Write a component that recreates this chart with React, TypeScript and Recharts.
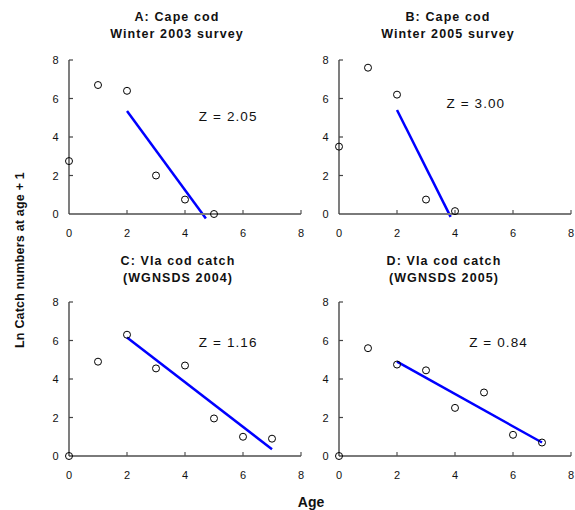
import React from 'react';
import { ScatterChart, Scatter, XAxis, YAxis, ReferenceLine, ReferenceDot } from 'recharts';

// Age classes and ln(catch numbers at age + 1) for each data set
const agesA = [0, 1, 2, 3, 4, 5];
const lnCatchA = [2.75, 6.7, 6.4, 2.0, 0.75, 0.0];
const agesB = [0, 1, 2, 3, 4];
const lnCatchB = [3.5, 7.6, 6.2, 0.75, 0.15];
const agesC = [0, 1, 2, 3, 4, 5, 6, 7];
const lnCatchC = [0, 4.9, 6.3, 4.55, 4.7, 1.95, 1.0, 0.9];
const agesD = [0, 1, 2, 3, 4, 5, 6, 7];
const lnCatchD = [0, 5.6, 4.75, 4.45, 2.5, 3.3, 1.1, 0.7];

// Fitted catch-curve segments (start and end of each regression line)
const fitA = [{ x: 2, y: 5.35 }, { x: 4.72, y: -0.23 }];
const fitB = [{ x: 2, y: 5.4 }, { x: 3.85, y: -0.15 }];
const fitC = [{ x: 2, y: 6.15 }, { x: 7, y: 0.35 }];
const fitD = [{ x: 2, y: 4.9 }, { x: 7, y: 0.7 }];

// Total mortality estimates
const zLabels = ['Z = 2.05', 'Z = 3.00', 'Z = 1.16', 'Z = 0.84'];

const titles = [
  ['A: Cape cod', 'Winter 2003 survey'],
  ['B: Cape cod', 'Winter 2005 survey'],
  ['C: VIa cod catch', '(WGNSDS 2004)'],
  ['D: VIa cod catch', '(WGNSDS 2005)'],
];

const axisTicks = [0, 2, 4, 6, 8];

const FONT = "'Liberation Sans', Arial, Helvetica, sans-serif";

const toPoints = (xs: number[], ys: number[]) => xs.map((x, i) => ({ x, y: ys[i] }));

const XTick = (props: any) => {
  const { x, y, payload } = props;
  return (
    <g>
      {payload.value !== 0 && (
        <line x1={x} x2={x} y1={y} y2={y - 4} stroke="#555" strokeWidth={1.2} />
      )}
      <text x={x} y={y + 23} textAnchor="middle" fontSize={11} fill="#111" fontFamily={FONT}>
        {payload.value}
      </text>
    </g>
  );
};

const YTick = (props: any) => {
  const { x, y, payload } = props;
  return (
    <g>
      {payload.value !== 0 && (
        <line x1={x} x2={x + 4} y1={y} y2={y} stroke="#444" strokeWidth={1.2} />
      )}
      <text x={x - 10.5} y={y + 4} textAnchor="end" fontSize={11} fill="#111" fontFamily={FONT}>
        {payload.value}
      </text>
    </g>
  );
};

const Ring = (props: any) => (
  <circle cx={props.cx} cy={props.cy} r={3.5} fill="none" stroke="#000" strokeWidth={1} />
);

interface PanelProps {
  left: number;
  top: number;
  points: { x: number; y: number }[];
  fit: { x: number; y: number }[];
  z: string;
  zAt: { x: number; y: number };
}

const Panel = ({ left, top, points, fit, z, zAt }: PanelProps) => (
  <div style={{ position: 'absolute', left, top }}>
    <ScatterChart width={305} height={250} margin={{ top: 60, right: 4, bottom: 0, left: 45 }}>
      <XAxis
        type="number"
        dataKey="x"
        domain={[0, 8]}
        ticks={axisTicks}
        interval={0}
        height={36}
        tickSize={0}
        tickMargin={0}
        tickLine={false}
        tick={<XTick />}
        axisLine={{ stroke: '#7a7a7a', strokeWidth: 2 }}
      />
      <YAxis
        type="number"
        dataKey="y"
        domain={[0, 8]}
        ticks={axisTicks}
        interval={0}
        width={24}
        tickSize={0}
        tickMargin={0}
        tickLine={false}
        tick={<YTick />}
        axisLine={{ stroke: '#3a3a3a', strokeWidth: 1.3 }}
      />
      <ReferenceLine
        segment={fit}
        ifOverflow="visible"
        stroke="#0000ff"
        strokeWidth={2.5}
      />
      <Scatter data={points} shape={<Ring />} isAnimationActive={false} />
      <ReferenceDot
        x={zAt.x}
        y={zAt.y}
        r={0}
        fill="none"
        stroke="none"
        label={{
          value: z,
          position: 'center',
          fontSize: 13.5,
          fill: '#111',
          fontFamily: FONT,
          letterSpacing: 1.1,
        }}
      />
    </ScatterChart>
  </div>
);

const titleCenters = [
  { x: 177, y: 20.7 },
  { x: 448, y: 20.7 },
  { x: 178, y: 264.5 },
  { x: 444, y: 264.5 },
];

export default function App() {
  return (
    <div
      style={{
        position: 'absolute',
        left: 0,
        top: 0,
        width: 575,
        height: 510,
        background: '#fff',
        fontFamily: FONT,
        overflow: 'hidden',
      }}
    >
      <Panel left={0} top={0} points={toPoints(agesA, lnCatchA)} fit={fitA} z={zLabels[0]} zAt={{ x: 5.49, y: 5.1 }} />
      <Panel left={270} top={0} points={toPoints(agesB, lnCatchB)} fit={fitB} z={zLabels[1]} zAt={{ x: 4.72, y: 5.78 }} />
      <Panel left={0} top={242} points={toPoints(agesC, lnCatchC)} fit={fitC} z={zLabels[2]} zAt={{ x: 5.49, y: 5.9 }} />
      <Panel left={270} top={242} points={toPoints(agesD, lnCatchD)} fit={fitD} z={zLabels[3]} zAt={{ x: 5.5, y: 5.9 }} />
      <svg
        width={575}
        height={510}
        style={{ position: 'absolute', left: 0, top: 0, pointerEvents: 'none' }}
      >
        {titles.map((t, i) => (
          <g key={i} fontFamily={FONT} fontWeight="bold" fontSize={12.5} fill="#111" letterSpacing={1.1}>
            <text x={titleCenters[i].x} y={titleCenters[i].y} textAnchor="middle">
              {t[0]}
            </text>
            <text x={titleCenters[i].x} y={titleCenters[i].y + 17} textAnchor="middle">
              {t[1]}
            </text>
          </g>
        ))}
        <text
          x={24}
          y={260}
          transform="rotate(-90 24 260)"
          textAnchor="middle"
          fontFamily={FONT}
          fontWeight="bold"
          fontSize={12.5}
          letterSpacing={0.2}
          fill="#111"
        >
          Ln Catch numbers at age + 1
        </text>
        <text x={311} y={506.5} textAnchor="middle" fontFamily={FONT} fontWeight="bold" fontSize={14} fill="#111">
          Age
        </text>
      </svg>
    </div>
  );
}
